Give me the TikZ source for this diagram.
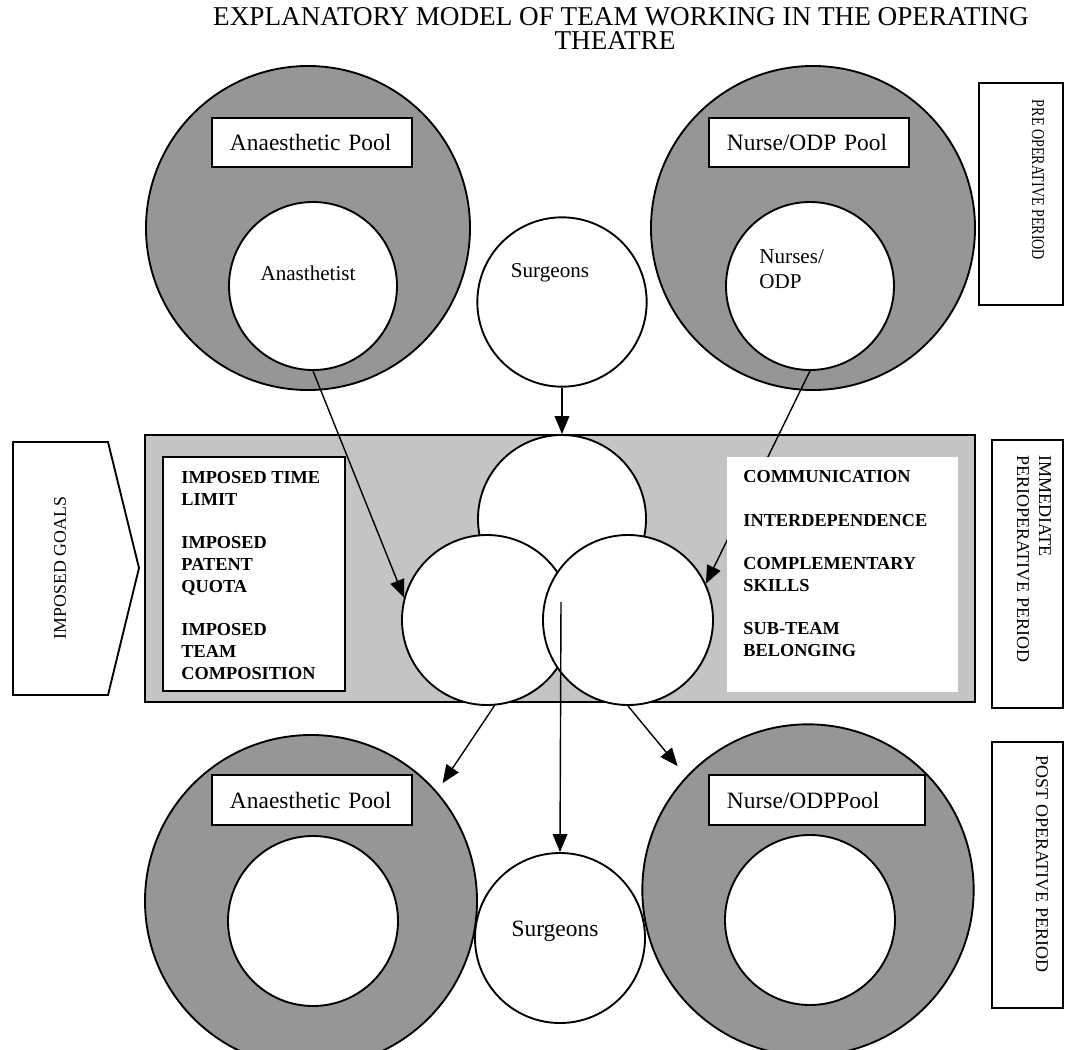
\documentclass[tikz,border=0pt]{standalone}
\usepackage{fontspec}
\setmainfont{Liberation Serif}
\usepackage{graphicx}
\usetikzlibrary{arrows.meta}
\definecolor{ink}{RGB}{0,0,0}
\definecolor{poolgray}{RGB}{150,150,150}
\definecolor{stagegray}{RGB}{196,196,196}
\tikzset{
  poolring/.style={circle,draw=ink,line width=0.8pt,fill=poolgray,inner sep=0pt},
  crew/.style={circle,draw=ink,line width=0.8pt,fill=white,inner sep=0pt,minimum size=2.54cm},
  poolbox/.style={draw=ink,line width=0.8pt,fill=white,inner xsep=0.27cm,inner ysep=0pt,
    minimum height=0.74cm,align=left,font=\fontsize{10}{12}\selectfont},
  periodbox/.style={draw=ink,line width=0.8pt,fill=white,inner sep=0pt},
  arr/.style={-{Triangle[length=0.27cm,width=0.22cm]},line width=0.6pt,ink},
  tag/.style={font=\fontsize{9}{10.5}\selectfont,inner sep=0pt,align=left},
  listtxt/.style={font=\bfseries\fontsize{7.8}{9.26}\selectfont,align=left,inner sep=0pt},
  sidetxt/.style={font=\fontsize{7.7}{9.4}\selectfont,align=left,inner sep=0pt},
  headtxt/.style={anchor=base,inner sep=0pt,font=\fontsize{11.6}{13}\selectfont},
}

\begin{document}
\begin{tikzpicture}[x=0.015cm,y=-0.015cm]
\useasboundingbox (0,0) rectangle (1065,1050);
% title
\node[headtxt] (title1) at (621,25) {EXPLANATORY MODEL OF TEAM WORKING IN THE OPERATING};
\node[headtxt] (title2) at (615,49) {THEATRE};
% pre operative: the two pools and the surgeons
\node[poolring,minimum size=4.86cm] (apool) at (308,228) {};
\node[poolring,minimum size=4.86cm] (npool) at (813,228) {};
\node[crew,minimum size=2.52cm] (anast) at (313,286) {};
\node[crew,minimum size=2.52cm] (nurse) at (810,286) {};
\node[poolbox,text width=2.46cm] (apoolbox) at (312,142.5) {Anaesthetic Pool};
\node[poolbox,text width=2.46cm] (npoolbox) at (809,142.5) {Nurse/ODP Pool};
\node[tag] (anasttxt) at (308,273) {Anasthetist};
\node[tag,anchor=west] (nursetxt) at (759,269) {Nurses/\\ODP};
\node[crew] (surg1) at (562,302) {};
\node[tag] (surg1txt) at (550,273) {Surgeons};
% immediate perioperative: the theatre team
\node[draw=ink,line width=0.8pt,fill=stagegray,minimum width=12.45cm,minimum height=4.005cm,
  inner sep=0pt] (stage) at (560,568.5) {};
\node[draw=ink,line width=0.8pt,fill=white,minimum width=2.73cm,minimum height=3.51cm,
  inner sep=0pt] (limits) at (254,574) {};
\node[listtxt,anchor=west] (limitstxt) at (181,575.5)
  {IMPOSED TIME\\LIMIT\\[9.26pt]IMPOSED\\PATENT\\QUOTA\\[9.26pt]IMPOSED\\TEAM\\COMPOSITION};
\node[crew,minimum size=2.52cm] (vt) at (562,519) {};
\node[crew,minimum size=2.55cm] (vl) at (487,620) {};
\node[crew,minimum size=2.55cm] (vr) at (628,620) {};
\draw[arr] (nurse.south) -- (vr.25);
\node[fill=white,minimum width=3.465cm,minimum height=3.525cm,inner sep=0pt] (skills) at (842.5,574.5) {};
\node[listtxt,anchor=west] (skillstxt) at (743,563.5)
  {COMMUNICATION\\[9.26pt]INTERDEPENDENCE\\[9.26pt]COMPLEMENTARY\\SKILLS\\[9.26pt]SUB-TEAM\\BELONGING};
% post operative
\node[poolring,minimum size=4.98cm] (bapool) at (311,901) {};
\node[poolring,minimum size=4.97cm] (bnpool) at (808,890) {};
\node[crew,minimum size=2.55cm] (banast) at (313,921) {};
\node[crew,minimum size=2.55cm] (bnurse) at (810,920) {};
\node[poolbox,text width=2.46cm] (bapoolbox) at (312,800) {Anaesthetic Pool};
\node[poolbox,text width=2.70cm] (bnpoolbox) at (817,800) {Nurse/ODPPool};
\node[crew,minimum size=2.55cm] (surg2) at (560,938) {};
\node[tag,font=\fontsize{10}{12}\selectfont] (surg2txt) at (555,931) {Surgeons};
% flows
\coordinate (vmid) at (561,602);
\draw[arr] (anast.south) -- (vl.165);
\draw[arr] (surg1.south) -- (vt.north);
\draw[arr] (vmid) -- (surg2.north);
\draw[arr,shorten >=0.15cm] (vl.-85) -- (bapool.41);
\draw[arr,shorten >=0.2cm] (vr.-90) -- (bnpool.137);
% periods
\node[periodbox,minimum width=1.26cm,minimum height=3.33cm] (pre) at (1021,194) {};
\node[sidetxt,rotate=-90] (pretxt) at (1038,180) {\scalebox{0.78}[1]{PRE OPERATIVE PERIOD}};
\node[periodbox,minimum width=1.065cm,minimum height=4.02cm] (perio) at (1027.5,574) {};
\node[sidetxt,rotate=-90] (periotxt) at (1034,559) {IMMEDIATE\\PERIOPERATIVE PERIOD};
\node[periodbox,minimum width=1.065cm,minimum height=3.99cm] (post) at (1027.5,875) {};
\node[sidetxt,rotate=-90] (posttxt) at (1042,864) {POST OPERATIVE PERIOD};
% imposed goals
\draw[line width=0.8pt,fill=white] (13,442) -- (108,442) -- (139,568) -- (108,695) -- (13,695) -- cycle;
\node[sidetxt,font=\fontsize{7.6}{9}\selectfont,rotate=90] (goals) at (60,568) {IMPOSED GOALS};
\end{tikzpicture}
\end{document}
